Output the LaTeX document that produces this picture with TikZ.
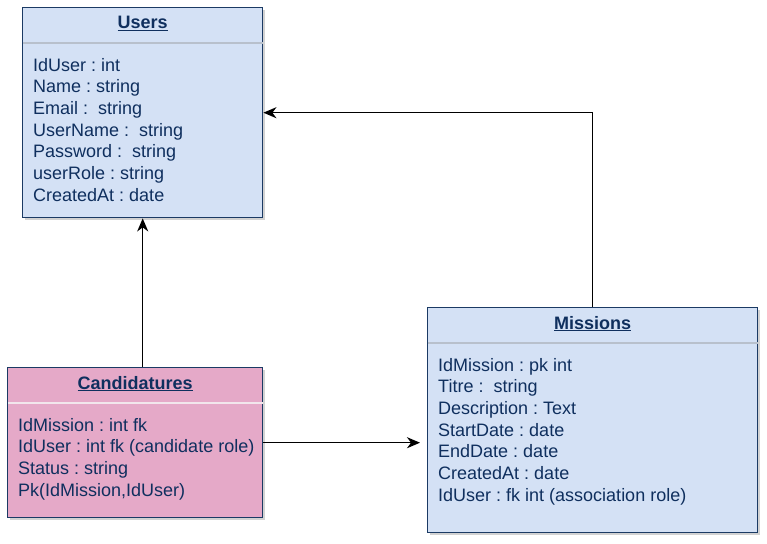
\documentclass[tikz,border=0pt]{standalone}
\usepackage{fontspec}
\setmainfont{Liberation Sans}
\usetikzlibrary{shadows,arrows.meta,calc}
\definecolor{bluefill}{HTML}{D4E1F5}
\definecolor{pinkfill}{HTML}{E5A9C8}
\definecolor{navy}{HTML}{1B3A64}
\definecolor{txt}{HTML}{0F2F5E}
\definecolor{sepblue}{HTML}{B8C0CC}
\definecolor{seppink}{HTML}{F2E6EC}
\frenchspacing
\begin{document}
\begin{tikzpicture}[x=1pt,y=-1pt,
  entity/.style={draw=navy, line width=1.4pt, anchor=north west, inner sep=0pt,
    drop shadow={shadow xshift=2.5pt, shadow yshift=-2.5pt, opacity=0.35, fill=black!50}},
  title/.style={font=\fontsize{18}{21.67}\selectfont\bfseries, text=txt, anchor=base, inner sep=0pt},
  row/.style={font=\fontsize{18}{21.67}\selectfont, text=txt, anchor=base west, inner sep=0pt},
  sep/.style={line width=1.3pt},
  arr/.style={-{Stealth[length=13pt,width=11pt,inset=4pt]}, line width=1.5pt, black}]
\useasboundingbox (0,0) rectangle (767,543);
\fill[white] (0,0) rectangle (767,543);

% Users
\node[entity, fill=bluefill, minimum width=240pt, minimum height=210pt] (users) at (22,7) {};
\node[title] (userst) at ($(users.north)+(0,22)$) {\underline{Users}};
\draw[sep, sepblue] ($(users.north west)+(0.8,36)$) -- ($(users.north east)+(-0.8,36)$);
\foreach \t [count=\i from 0] in {IdUser : int, Name : string, Email :~~string, UserName :~~string, Password :~~string, userRole : string, CreatedAt : date}
  \node[row] (users-\i) at ($(users.north west)+(11,64+21.67*\i)$) {\t};

% Candidatures
\node[entity, fill=pinkfill, minimum width=255pt, minimum height=150pt] (cand) at (7,367) {};
\node[title] (candt) at ($(cand.north)+(0,22)$) {\underline{Candidatures}};
\draw[sep, seppink] ($(cand.north west)+(0.8,36)$) -- ($(cand.north east)+(-0.8,36)$);
\foreach \t [count=\i from 0] in {IdMission : int fk, IdUser : int fk (candidate role), Status : string, {Pk(IdMission,IdUser)}}
  \node[row] (cand-\i) at ($(cand.north west)+(11,64+21.67*\i)$) {\t};

% Missions
\node[entity, fill=bluefill, minimum width=330pt, minimum height=225pt] (miss) at (427,307) {};
\node[title] (misst) at ($(miss.north)+(0,22)$) {\underline{Missions}};
\draw[sep, sepblue] ($(miss.north west)+(0.8,36)$) -- ($(miss.north east)+(-0.8,36)$);
\foreach \t [count=\i from 0] in {IdMission : pk int, Titre :~~string, Description : Text, StartDate : date, EndDate : date, CreatedAt : date, IdUser : fk int (association role)}
  \node[row] (miss-\i) at ($(miss.north west)+(11,64+21.67*\i)$) {\t};

% Connectors
\draw[arr] (users.south |- cand.north) -- (users.south);
\draw[arr] (miss.north) |- (users.east);
\draw[arr, shorten >=7pt] (cand.east) -- (cand.east -| miss.west);
\end{tikzpicture}
\end{document}
